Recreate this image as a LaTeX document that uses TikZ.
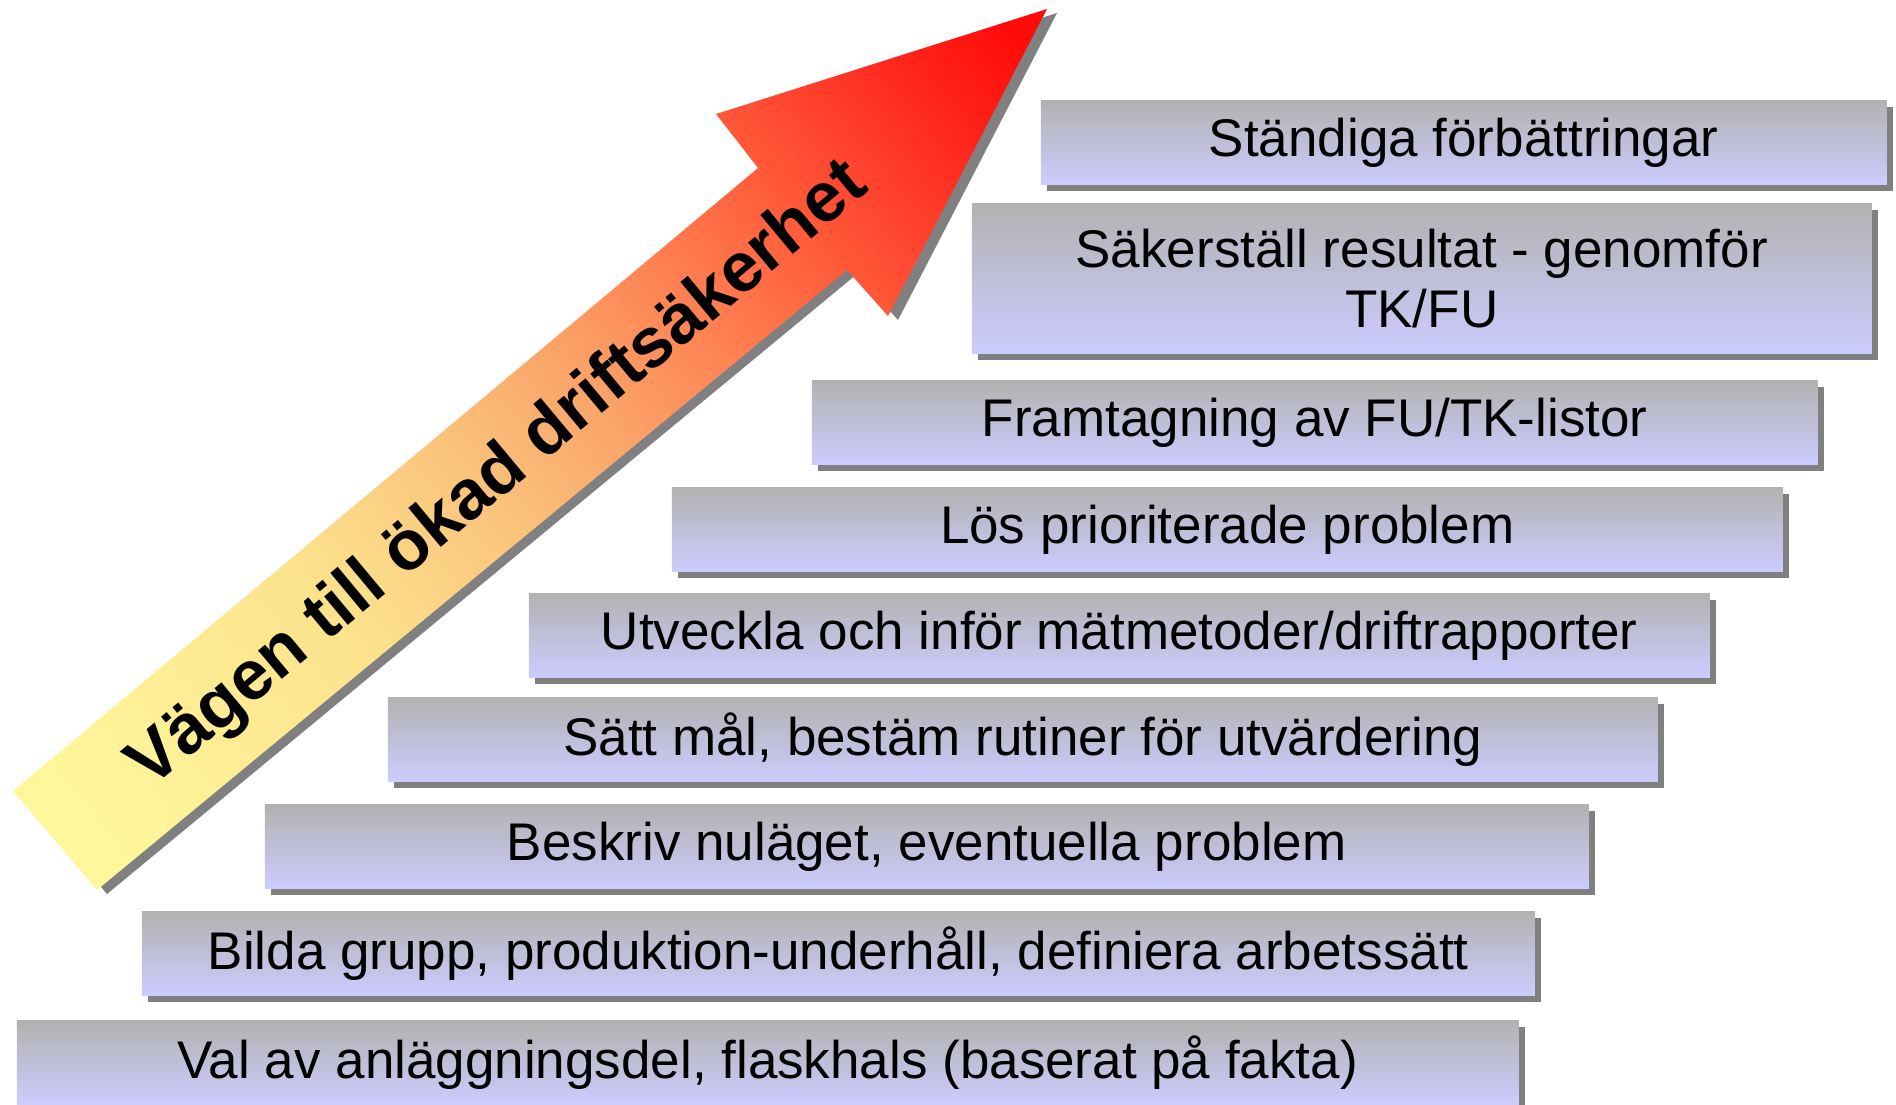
\documentclass[tikz,border=0pt]{standalone}
\usepackage{fontspec}
\setmainfont{Liberation Sans}
\usetikzlibrary{shadows}

\definecolor{boxtop}{RGB}{178,178,178}
\definecolor{boxbot}{RGB}{204,204,255}
\definecolor{shadowgray}{RGB}{128,128,128}
\definecolor{roadA}{RGB}{255,247,155}
\definecolor{roadB}{RGB}{252,226,140}
\definecolor{roadC}{RGB}{250,198,126}
\definecolor{roadD}{RGB}{250,165,105}
\definecolor{roadE}{RGB}{255,128,82}
\definecolor{roadF}{RGB}{255,98,62}
\definecolor{roadG}{RGB}{255,64,44}
\definecolor{roadH}{RGB}{255,36,26}
\definecolor{roadI}{RGB}{255,12,10}

\pgfdeclareverticalshading{roadshade}{100bp}{color(0bp)=(roadA); color(20bp)=(roadA); color(37bp)=(roadB); color(46bp)=(roadC); color(54bp)=(roadD); color(61.5bp)=(roadE); color(67bp)=(roadF); color(73bp)=(roadG); color(78bp)=(roadH); color(83bp)=(roadI); color(100bp)=(roadI)}

\tikzset{every picture/.style={line width=0.75pt}}
\tikzset{
  stepbox/.style={rectangle, anchor=north west, inner sep=0pt, minimum height=42pt,
    top color=boxtop, bottom color=boxbot, align=center,
    drop shadow={shadow xshift=3pt, shadow yshift=-3pt, fill=shadowgray, opacity=1},
    font=\fontsize{26.5}{30}\selectfont},
}

\begin{document}
\begin{tikzpicture}[x=0.5pt,y=0.5pt,yscale=-1,xscale=1]
    \path[use as bounding box, clip] (0,0) rectangle (1896,1104);

    %Shape: Arrow shadow
    \fill[shadowgray] ([shift={(10,4)}]1047,9) -- ([shift={(10,4)}]888,316) -- ([shift={(10,4)}]847,270) -- ([shift={(10,4)}]97,890) -- ([shift={(10,4)}]13,791) -- ([shift={(10,4)}]758,168) -- ([shift={(10,4)}]716,114) -- cycle ;
    %Shape: Arrow
    \shade[shading=roadshade, shading angle=-50]
      (1047,9) -- (888,316) -- (847,270) -- (97,890) -- (13,791) -- (758,168) -- (716,114) -- cycle ;

    % Text Node
    \node[rotate=39.8, font=\fontsize{35}{40}\selectfont\bfseries] (road) at (499,476) {Vägen till ökad driftsäkerhet};

    %Shape: Steps
    \node[stepbox, minimum width=423pt] (s9) at (1040,100) {Ständiga förbättringar};
    \node[stepbox, minimum width=450pt, minimum height=75pt] (s8) at (971,203) {Säkerställ resultat - genomför\\TK/FU};
    \node[stepbox, minimum width=503pt] (s7) at (811,380) {Framtagning av FU/TK-listor};
    \node[stepbox, minimum width=555.5pt] (s6) at (671,487) {Lös prioriterade problem};
    \node[stepbox, minimum width=590.5pt] (s5) at (528,593) {Utveckla och inför mätmetoder/driftrapporter};
    \node[stepbox, minimum width=635pt] (s4) at (387,697) {Sätt mål, bestäm rutiner för utvärdering};
    \node[stepbox, minimum width=662pt] (s3) at (264,804) {Beskriv nuläget, eventuella problem};
    \node[stepbox, minimum width=696.5pt] (s2) at (141,911) {Bilda grupp, produktion-underhåll, definiera arbetssätt};
    \node[stepbox, minimum width=751pt] (s1) at (16,1020) {Val av anläggningsdel, flaskhals (baserat på fakta)};

\end{tikzpicture}
\end{document}
